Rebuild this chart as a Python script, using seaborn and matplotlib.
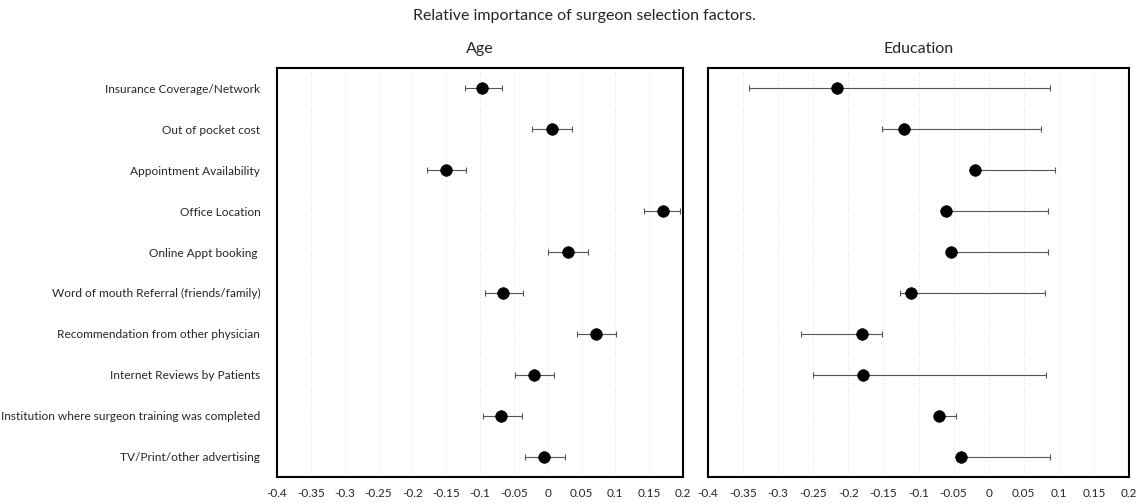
import numpy as np
import pandas as pd
import matplotlib.pyplot as plt
import seaborn as sns

factors = ["Insurance Coverage/Network", "Out of pocket cost", "Appointment Availability",
           "Office Location", "Online Appt booking ", "Word of mouth Referral (friends/family)",
           "Recommendation from other physician", "Internet Reviews by Patients",
           "Institution where surgeon training was completed", "TV/Print/other advertising"]

# Age panel: estimate and interval
age_est = [-0.097, 0.006, -0.150, 0.170, 0.030, -0.066, 0.072, -0.020, -0.069, -0.006]
age_lo = [-0.122, -0.023, -0.179, 0.143, 0.001, -0.093, 0.044, -0.048, -0.095, -0.033]
age_hi = [-0.068, 0.036, -0.121, 0.196, 0.059, -0.036, 0.101, 0.009, -0.038, 0.025]

# Education panel
edu_est = [-0.216, -0.121, -0.020, -0.061, -0.054, -0.111, -0.180, -0.179, -0.071, -0.040]
edu_lo = [-0.341, -0.152, -0.026, -0.066, -0.058, -0.127, -0.268, -0.251, -0.075, -0.044]
edu_hi = [0.088, 0.074, 0.095, 0.084, 0.084, 0.080, -0.152, 0.081, -0.046, 0.087]

xticks = [-0.4, -0.35, -0.3, -0.25, -0.2, -0.15, -0.1, -0.05, 0, 0.05, 0.1, 0.15, 0.2]
xtick_labels = ["-0.4", "-0.35", "-0.3", "-0.25", "-0.2", "-0.15", "-0.1", "-0.05",
                "0", "0.05", "0.1", "0.15", "0.2"]

sns.set_style("white")
plt.rcParams["font.family"] = ["Lato", "DejaVu Sans"]

fig = plt.figure(figsize=(11.41, 5.03), dpi=100)
ax1 = fig.add_axes([0.2428, 0.0517, 0.3558, 0.8131])
ax2 = fig.add_axes([0.6205, 0.0517, 0.3690, 0.8131])


def panel(ax, est, lo, hi, title, show_labels):
    df = pd.DataFrame({"factor": factors, "est": est, "lo": lo, "hi": hi})
    df["pos"] = np.arange(len(df))
    for xv in xticks:
        ax.axvline(xv, color="#d8d8d8", lw=0.7, ls=(0, (1, 3)), zorder=0)
    ax.errorbar(df["est"], df["pos"],
                xerr=[df["est"] - df["lo"], df["hi"] - df["est"]],
                fmt="none", ecolor="#555555", elinewidth=0.8, capsize=2.5,
                capthick=0.8, zorder=2)
    sns.scatterplot(data=df, x="est", y="pos", ax=ax, color="black", s=70,
                    edgecolor="black", linewidth=0.5, zorder=3, legend=False)
    ax.set_xlim(-0.4, 0.2)
    ax.set_ylim(9.5, -0.5)
    ax.set_xticks(xticks)
    ax.set_xticklabels(xtick_labels, fontsize=8.5)
    ax.set_yticks(df["pos"])
    if show_labels:
        ax.set_yticklabels(df["factor"], fontsize=8.6)
    else:
        ax.set_yticklabels([])
    ax.tick_params(axis="both", length=0)
    ax.tick_params(axis="x", pad=8)
    ax.tick_params(axis="y", pad=12)
    ax.set_xlabel("")
    ax.set_ylabel("")
    ax.set_title(title, fontsize=11.5, pad=11)
    for s in ax.spines.values():
        s.set_visible(True)
        s.set_color("black")
        s.set_linewidth(1.5)


panel(ax1, age_est, age_lo, age_hi, "Age", True)
panel(ax2, edu_est, edu_lo, edu_hi, "Education", False)

fig.text(0.512, 0.968, "Relative importance of surgeon selection factors.",
         ha="center", va="center", fontsize=11.5)

plt.savefig("out.png", dpi=100)
